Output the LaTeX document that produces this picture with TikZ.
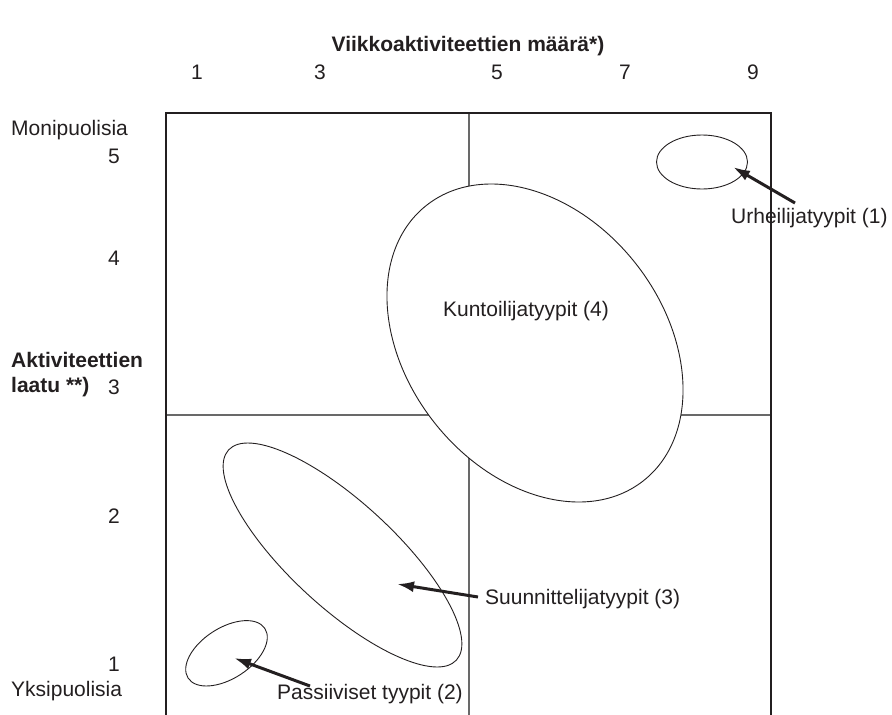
\documentclass[tikz,border=0pt]{standalone}
\usepackage{fontspec}
\setmainfont{Liberation Sans}
\usetikzlibrary{shapes.geometric,arrows.meta}
\definecolor{ink}{RGB}{35,31,32}
\definecolor{gridgray}{RGB}{105,105,105}
\begin{document}
\begin{tikzpicture}[x=1pt,y=-1pt,
  lbl/.style={font=\fontsize{21}{25}\selectfont, text=ink, inner sep=0pt},
  boldlbl/.style={lbl, font=\fontsize{21}{25}\selectfont\bfseries},
  frame/.style={draw=ink, line width=1.5pt},
  divider/.style={draw=gridgray, line width=1.5pt},
  blob/.style={ellipse, draw=ink, line width=0.9pt, inner sep=0pt},
  pointer/.style={draw=ink, line width=3pt, -{Latex[length=17pt,width=11pt]}}]
\useasboundingbox (0,0) rectangle (892,715);

% quadrant dividers and outer frame (open at the bottom)
\draw[divider] (469,113) -- (469,715);
\draw[divider] (166,415) -- (771,415);
\draw[frame] (166,715) -- (166,113) -- (771,113) -- (771,715);

% axis titles and scale values
\node[boldlbl] (xtitle) at (468,46) {Viikkoaktiviteettien määrä*)};
\node[lbl] (x1) at (197,72) {1};
\node[lbl] (x3) at (320,72) {3};
\node[lbl] (x5) at (497,72) {5};
\node[lbl] (x7) at (625,72) {7};
\node[lbl] (x9) at (753,72) {9};

\node[lbl, anchor=west] (ytop) at (11,130) {Monipuolisia};
\node[lbl] (y5) at (114,156) {5};
\node[lbl] (y4) at (114,258) {4};
\node[boldlbl, anchor=west] (ytitle1) at (11,360) {Aktiviteettien};
\node[boldlbl, anchor=west] (ytitle2) at (11,387) {laatu **)};
\node[lbl] (y3) at (114,387) {3};
\node[lbl] (y2) at (114,516) {2};
\node[lbl] (y1) at (114,664) {1};
\node[lbl, anchor=west] (ybot) at (11,691) {Yksipuolisia};

% group ellipses
\node[blob, fill=white, minimum width=350.6pt, minimum height=256.6pt, rotate=-51.8] (kunto) at (535,343) {};
\node[blob, minimum width=91pt, minimum height=54pt] (urheilu) at (702,162) {};
\node[blob, minimum width=310pt, minimum height=105pt, rotate=-42.7] (suunn) at (342.5,555) {};
\node[blob, minimum width=91.4pt, minimum height=50.8pt, rotate=32.8] (passiiv) at (226.5,653.3) {};

% group labels
\node[lbl] (kuntolbl) at (526,311) {Kuntoilijatyypit (4)};
\node[lbl, anchor=west] (urheilulbl) at (731,218) {Urheilijatyypit (1)};
\node[lbl, anchor=west] (suunnlbl) at (485,599) {Suunnittelijatyypit (3)};
\node[lbl, anchor=west] (passiivlbl) at (277,694) {Passiiviset tyypit (2)};

% arrow ends
\coordinate (urheilutail) at (795,203);
\coordinate (urheilutip) at (733,167);
\coordinate (suunntail) at (478,597);
\coordinate (suunntip) at (397,584);
\coordinate (passiivtail) at (310,686);
\coordinate (passiivtip) at (234,658);

\draw[pointer] (urheilutail) -- (urheilutip);
\draw[pointer] (suunntail) -- (suunntip);
\draw[pointer] (passiivtail) -- (passiivtip);
\end{tikzpicture}
\end{document}
